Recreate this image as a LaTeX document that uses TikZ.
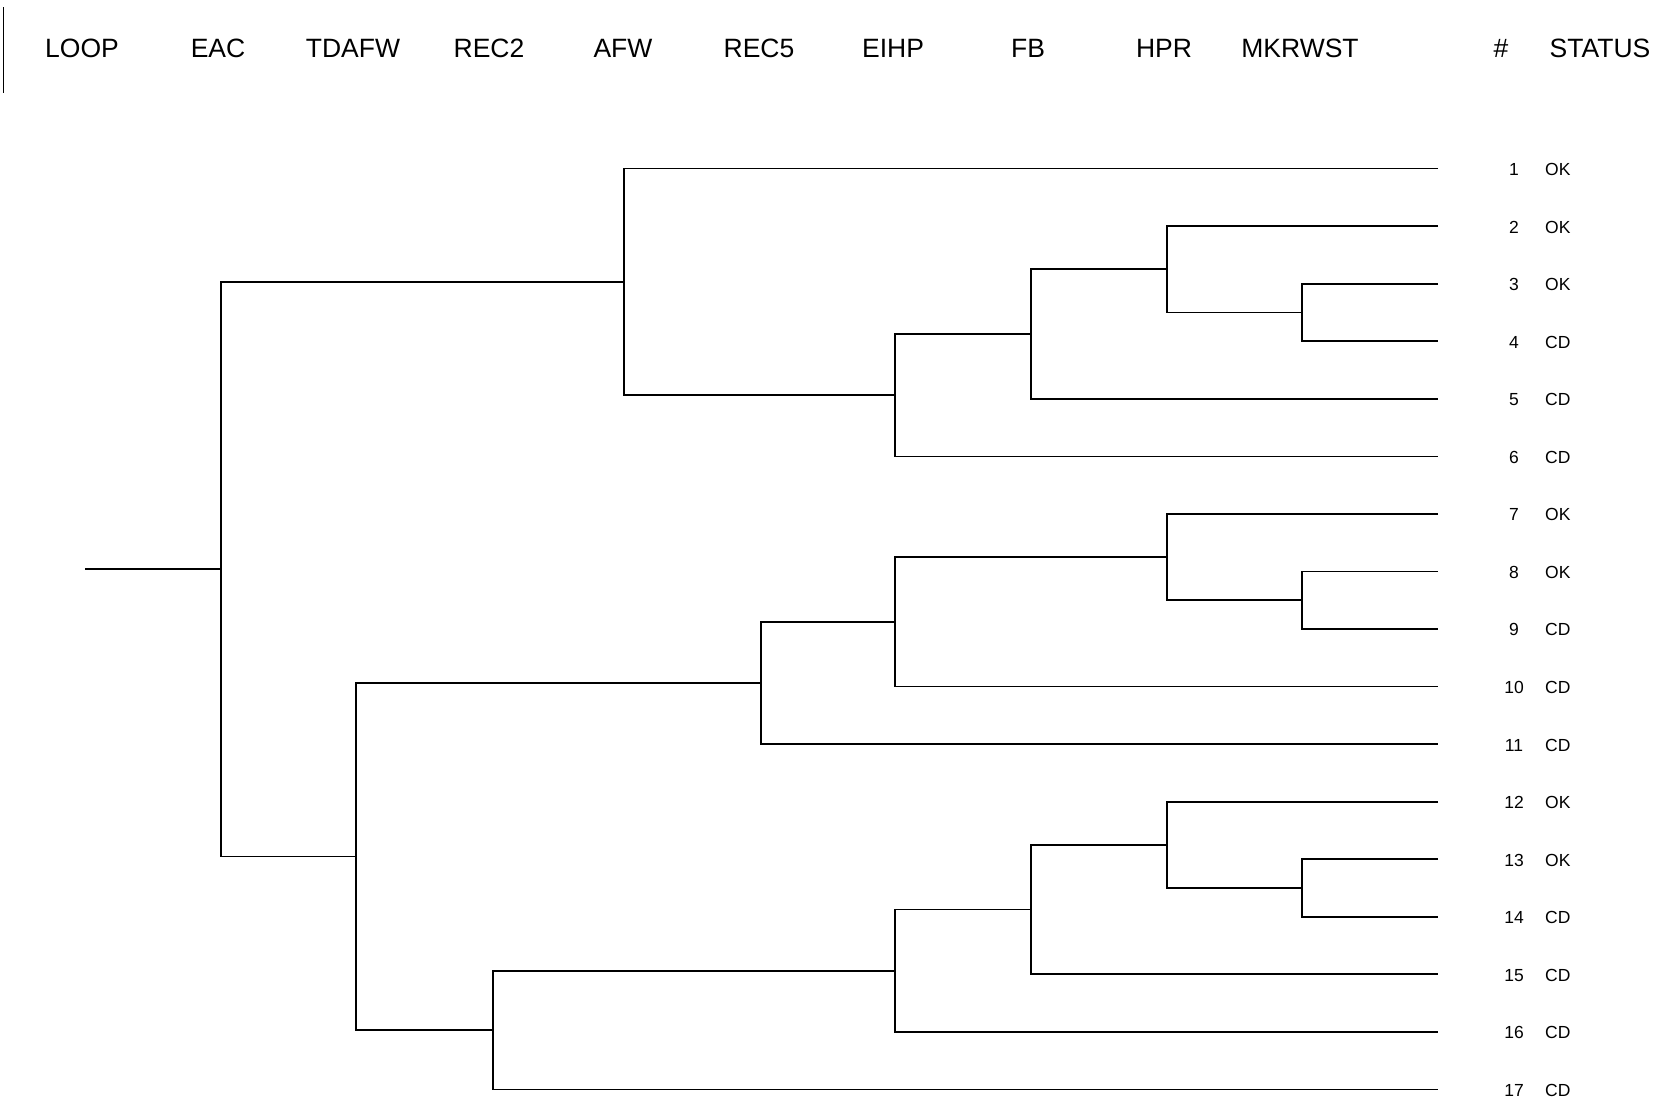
\documentclass[tikz,border=0pt]{standalone}
\usepackage{fontspec}
\setmainfont{Liberation Sans}
\usetikzlibrary{calc}
\begin{document}
\begin{tikzpicture}[x=1pt,y=-1pt,
  branch/.style={line width=1.7pt, black},
  head/.style={font=\fontsize{26.5}{26.5}\selectfont, anchor=base, inner sep=0pt},
  leaflab/.style={font=\fontsize{17.5}{17.5}\selectfont, inner sep=0pt}]
\useasboundingbox[fill=white] (0,0) rectangle (1673,1101);
% header
\draw[line width=1pt] (3,7) -- (3,93);
\foreach \t/\x [count=\i] in {LOOP/82,EAC/218,TDAFW/353,REC2/489,AFW/623,REC5/759,EIHP/893,FB/1028,HPR/1164,MKRWST/1300,\#/1501,STATUS/1600}
  \node[head] (h\i) at (\x,57) {\t};
% columns
\coordinate (xR0) at (85,0);
\coordinate (xEAC) at (221,0);
\coordinate (xTD) at (356,0);
\coordinate (xR2) at (493,0);
\coordinate (xAFW) at (624,0);
\coordinate (xR5) at (761,0);
\coordinate (xEI) at (895,0);
\coordinate (xFB) at (1031,0);
\coordinate (xHPR) at (1167,0);
\coordinate (xMK) at (1302,0);
% leaves
\foreach \i/\s in {1/OK,2/OK,3/OK,4/CD,5/CD,6/CD,7/OK,8/OK,9/CD,10/CD,11/CD,12/OK,13/OK,14/CD,15/CD,16/CD,17/CD}{
  \coordinate (l\i) at (1438,{168.6+(\i-1)*57.55});
  \node[leaflab, anchor=base] (n\i) at (1514,{175.5+(\i-1)*57.55}) {\i};
  \node[leaflab, anchor=base west] (s\i) at (1545,{175.5+(\i-1)*57.55}) {\s};
}
% internal nodes: name / column / child1 / child2
\foreach \n/\c/\a/\b in {F/xMK/l3/l4, E/xHPR/l2/F, D/xFB/E/l5, C/xEI/D/l6, A/xAFW/l1/C,
  K/xMK/l8/l9, J/xHPR/l7/K, I/xEI/J/l10, G/xR5/I/l11,
  O/xMK/l13/l14, N/xHPR/l12/O, M/xFB/N/l15, L/xEI/M/l16, H/xR2/L/l17,
  B/xTD/G/H, R/xEAC/A/B}{
  \coordinate (m\n) at ($(\a)!.5!(\b)$);
  \coordinate (\n) at (\c |- m\n);
  \draw[branch] (\a) -| (\n) |- (\b);
}
\coordinate (r0) at (xR0 |- R);
\draw[branch] (r0) -- (R);
\end{tikzpicture}
\end{document}
